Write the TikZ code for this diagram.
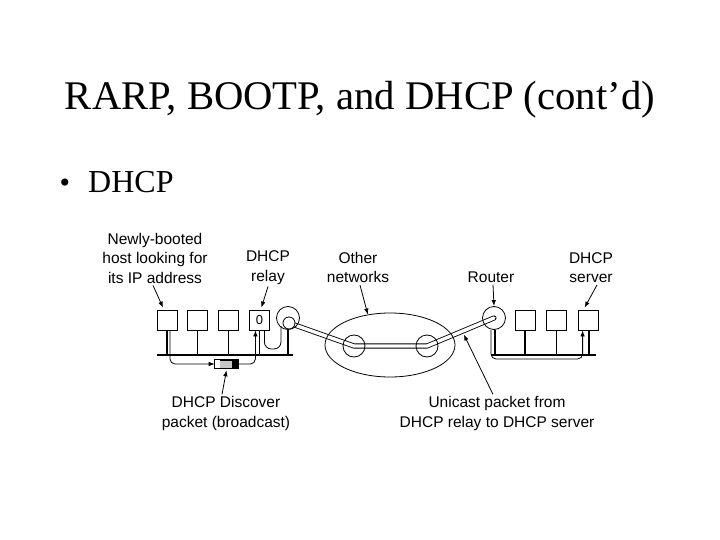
\documentclass[tikz,border=0pt]{standalone}
\usepackage{fontspec}
\setmainfont{Liberation Serif}
\newfontfamily\diagfont{Liberation Sans}
\usetikzlibrary{arrows.meta,positioning,shapes.geometric,calc,backgrounds}

\begin{document}
\begin{tikzpicture}[x=1pt,y=-1pt,
   every node/.style={inner sep=0pt},
   lbl/.style={font=\diagfont\fontsize{15.5}{19.5}\selectfont,align=center},
   host/.style={draw,rectangle,minimum width=20pt,minimum height=20pt,line width=0.8pt},
   rtr/.style={draw,circle,minimum size=23pt,line width=0.8pt},
   netnode/.style={draw,circle,minimum size=22pt,line width=0.8pt},
   bus/.style={line width=2.6pt},
   drop/.style={line width=1.1pt},
   fatdrop/.style={line width=2.2pt},
   path/.style={line width=0.8pt,rounded corners=5pt},
   ptr/.style={-{Latex[length=6pt,width=4.5pt]},line width=0.8pt},
   dbl/.style={double=white,double distance=3.4pt,line width=0.85pt,
               line cap=round,line join=round}
]
\useasboundingbox (0,0) rectangle (720,540);

% title and bullet
\node[anchor=base,font=\fontsize{40.7}{48}\selectfont] (title) at (360,110)
   {RARP, BOOTP, and DHCP (cont’d)};
\node[anchor=base,font=\fontsize{30}{36}\selectfont] (bullet) at (65,193) {\textbullet};
\node[anchor=base west,font=\fontsize{32}{38}\selectfont] (item) at (88,193) {DHCP};

% left LAN
\node[host] (h1) at (167,320) {};
\node[host,right=10pt of h1] (h2) {};
\node[host,right=10pt of h2] (h3) {};
\node[host,right=10pt of h3,font=\diagfont\fontsize{13}{13}\selectfont] (h4) {0};
\coordinate (busL1) at (157,355);
\coordinate (busL2) at (293,355);
\draw[bus] (busL1) -- (busL2);
\foreach \h in {h1,h2,h3,h4}
   \draw[drop] (\h.south) -- (\h.south |- busL1);

% relay router
\node[rtr] (rtrL) at (288,318) {};
\node[draw,circle,minimum size=12pt,fill=white,line width=0.8pt] (rtrIn) at (289,323) {};
\draw[drop] (rtrL.south) -- (rtrL.south |- busL1);

% other networks
\node[draw,ellipse,minimum width=130pt,minimum height=64pt,line width=0.8pt] (cloud) at (390,345) {};
\node[netnode] (netL) at (354,346) {};
\node[netnode] (netR) at (427,346) {};

% right LAN
\node[rtr] (rtrR) at (494,318) {};
\node[host] (h5) at (525,320) {};
\node[host,right=11pt of h5] (h6) {};
\node[host,right=11pt of h6] (h7) {};
\coordinate (busR1) at (491,355);
\coordinate (busR2) at (596,355);
\draw[bus] (busR1) -- (busR2);
\foreach \h in {h5,h6}
   \draw[drop] (\h.south) -- (\h.south |- busR1);
\draw[fatdrop] (h7.south) -- (h7.south |- busR1);
\draw[fatdrop] ([xshift=1pt]rtrR.south) -- ([xshift=1pt]rtrR.south |- busR1);

% double link through the other networks
\begin{scope}[on background layer]
\draw[dbl] (rtrIn.center) -- (netL.center) -- (netR.center) -- (rtrR.center);
\end{scope}

% discover packet
\node[draw,minimum width=23pt,minimum height=8pt,fill=gray!45,line width=0.6pt] (pkt) at (226.5,364) {};
\fill[white] (pkt.south west) rectangle ([xshift=5pt]pkt.north west);
\fill[black] ([xshift=-6pt]pkt.south east) rectangle (pkt.north east);
\draw[line width=0.6pt] (pkt.south west) rectangle (pkt.north east);
\draw[ptr,path] ([xshift=3pt]h1.south) |- (pkt.west);
\draw[ptr,path] (pkt.east) -| ([xshift=-4pt]h4.south);

% relay to router
\coordinate (uL) at (281,349);
\coordinate (uT) at (281,326);
\draw[path,rounded corners=7pt] ([xshift=5pt]h4.south) |- (uL) -- (uT);

% router to server
\coordinate (ucB) at (0,359);
\draw[ptr,path] ([xshift=-3pt]rtrR.south) |- ([xshift=-6pt]h7.south |- ucB) -- ([xshift=-6pt]h7.south);

% labels
\node[lbl] (newly) at (155,258) {Newly-booted\\host looking for\\its IP address};
\node[lbl] (relayl) at (268,267.5) {DHCP\\relay};
\node[lbl] (otherl) at (358,267.5) {Other\\networks};
\node[lbl] (routerl) at (491,277) {Router};
\node[lbl] (serverl) at (591,267.5) {DHCP\\server};
\node[lbl] (discl) at (226,413.5) {DHCP Discover\\packet (broadcast)};
\node[lbl] (unil) at (497,413.5) {Unicast packet from\\DHCP relay to DHCP server};

\coordinate (uc) at ($(netR)!0.55!(rtrR)+(0,4)$);
\draw[ptr] ([xshift=-2pt,yshift=-2pt]newly.south) -- ([xshift=-4pt,yshift=2pt]h1.north);
\draw[ptr] ([yshift=-2pt]relayl.south) -- ([xshift=2pt,yshift=2pt]h4.north);
\draw[ptr] ([xshift=2pt,yshift=-2pt]otherl.south) -- (cloud.126);
\draw[ptr] ([xshift=2pt,yshift=-2pt]routerl.south) -- (rtrR.north);
\draw[ptr] ([xshift=6pt,yshift=-2pt]serverl.south) -- ([xshift=-4pt,yshift=2pt]h7.north);
\draw[ptr] ([xshift=-4pt,yshift=2pt]discl.north) -- ([yshift=-2pt]pkt.south);
\draw[ptr] ([xshift=-4pt,yshift=2pt]unil.north) -- (uc);
\end{tikzpicture}
\end{document}
